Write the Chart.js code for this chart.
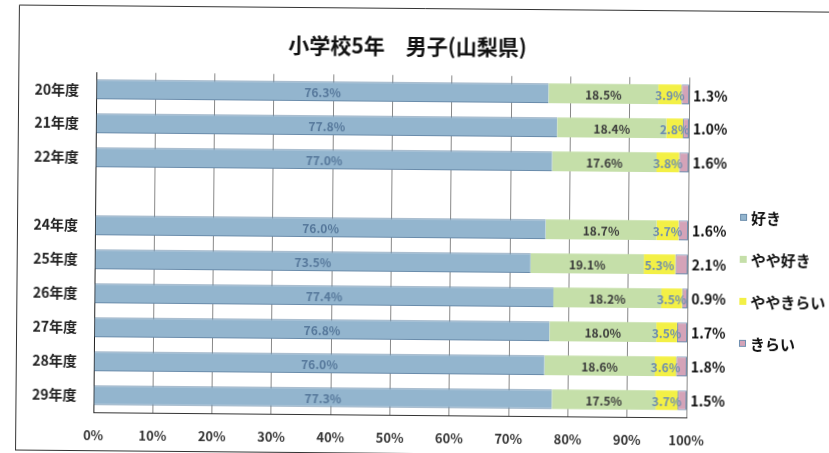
<!DOCTYPE html>
<html lang="ja">
<head>
<meta charset="utf-8">
<title>小学校5年 男子(山梨県)</title>
<script src="https://cdn.jsdelivr.net/npm/chart.js@4.4.1/dist/chart.umd.min.js"></script>
<style>
  html, body { margin: 0; padding: 0; background: #fff; overflow: hidden; }
  #wrap { position: relative; width: 829px; height: 465px; transform: rotate(0.5deg); transform-origin: 414.5px 226.5px; }
</style>
</head>
<body>
<div id="wrap"><canvas id="chart" width="829" height="465"></canvas></div>
<script>
// 年度ごとの回答割合 (%)  23年度は調査なしのため空行
const years = ['20年度', '21年度', '22年度', '', '24年度', '25年度', '26年度', '27年度', '28年度', '29年度'];
const suki      = [76.3, 77.8, 77.0, null, 76.0, 73.5, 77.4, 76.8, 76.0, 77.3];
const yayaSuki  = [18.5, 18.4, 17.6, null, 18.7, 19.1, 18.2, 18.0, 18.6, 17.5];
const yayaKirai = [3.9, 2.8, 3.8, null, 3.7, 5.3, 3.5, 3.5, 3.6, 3.7];
const kirai     = [1.3, 1.0, 1.6, null, 1.6, 2.1, 0.9, 1.7, 1.8, 1.5];
const seriesNames = ['好き', 'やや好き', 'ややきらい', 'きらい'];
const xTicks = [0, 10, 20, 30, 40, 50, 60, 70, 80, 90, 100];

const FONT = "'Noto Sans CJK JP', 'Noto Sans', sans-serif";
Chart.defaults.font.family = FONT;

// ラベルの色と配置 (系列ごと)
const labelStyle = [
  { color: '#55779a', font: 'bold 12px ' + FONT, pos: 'center' },
  { color: '#3a3a3a', font: 'bold 12px ' + FONT, pos: 'center' },
  { color: '#6d8db0', font: 'bold 12px ' + FONT, pos: 'center' },
  { color: '#111111', font: 'bold 14px ' + FONT, pos: 'outside' }
];

const barLabels = {
  id: 'barLabels',
  afterDatasetsDraw(chart) {
    const ctx = chart.ctx;
    ctx.save();
    ctx.textBaseline = 'middle';
    chart.data.datasets.forEach((ds, i) => {
      const meta = chart.getDatasetMeta(i);
      const st = labelStyle[i];
      meta.data.forEach((bar, j) => {
        const v = ds.data[j];
        if (v == null) return;
        ctx.font = st.font;
        ctx.fillStyle = st.color;
        const text = v.toFixed(1) + '%';
        if (st.pos === 'outside') {
          ctx.textAlign = 'left';
          ctx.fillText(text, bar.x + 4, bar.y + 1);
        } else {
          ctx.textAlign = 'center';
          ctx.fillText(text, (bar.x + bar.base) / 2, bar.y + 1);
        }
      });
    });
    ctx.restore();
  }
};

// 外枠と右側の凡例
const decor = {
  id: 'decor',
  afterLayout(chart) {
    const t = chart.titleBlock;
    if (t) { t.left = 0; t.right = 812; }
  },
  beforeDraw(chart) {
    const ctx = chart.ctx;
    ctx.save();
    ctx.fillStyle = '#fff';
    ctx.fillRect(0, 0, chart.width, chart.height);
    ctx.strokeStyle = '#333';
    ctx.lineWidth = 1;
    ctx.beginPath();
    ctx.moveTo(17.5, 454);
    ctx.lineTo(17.5, 8.5);
    ctx.lineTo(829, 8.5);
    ctx.moveTo(17.5, 453.5);
    ctx.lineTo(829, 453.5);
    ctx.stroke();
    ctx.restore();
  },
  afterDraw(chart) {
    const ctx = chart.ctx;
    ctx.save();
    ctx.textBaseline = 'middle';
    ctx.textAlign = 'left';
    ctx.font = 'bold 15px ' + FONT;
    chart.data.datasets.forEach((ds, i) => {
      const y = 215 + i * 42;
      ctx.fillStyle = ds.backgroundColor;
      ctx.fillRect(740, y - 4, 7, 7);
      if (ds.legendBorder) {
        ctx.strokeStyle = ds.legendBorder;
        ctx.strokeRect(740.5, y - 3.5, 6, 6);
      }
      ctx.fillStyle = '#111';
      ctx.fillText(ds.label, 751, y);
    });
    ctx.restore();
  }
};

new Chart(document.getElementById('chart'), {
  type: 'bar',
  data: {
    labels: years,
    datasets: [
      { label: seriesNames[0], data: suki, backgroundColor: '#93b5ce', borderColor: '#6a8cab',
        borderWidth: { top: 1, bottom: 1, left: 0, right: 0 }, borderSkipped: false, legendBorder: '#6a8cab' },
      { label: seriesNames[1], data: yayaSuki, backgroundColor: '#c5dfa9', borderWidth: 0 },
      { label: seriesNames[2], data: yayaKirai, backgroundColor: '#f3f046', borderWidth: 0 },
      { label: seriesNames[3], data: kirai, backgroundColor: '#d4a3b8', borderColor: '#6f8fb0',
        borderWidth: 1, borderSkipped: false, legendBorder: '#6f8fb0' }
    ]
  },
  options: {
    indexAxis: 'y',
    responsive: false,
    animation: false,
    maintainAspectRatio: false,
    layout: { padding: { left: 20, right: 141, top: 0, bottom: 22 } },
    datasets: { bar: { categoryPercentage: 1, barPercentage: 0.58 } },
    plugins: {
      legend: { display: false },
      tooltip: { enabled: false },
      title: {
        display: true,
        text: '小学校5年　男子(山梨県)',
        color: '#111',
        font: { size: 21, weight: 'bold' },
        padding: { top: 33, bottom: 17 }
      }
    },
    scales: {
      x: {
        stacked: true,
        min: 0,
        max: 100,
        afterBuildTicks(scale) { scale.ticks = xTicks.map(v => ({ value: v })); },
        afterFit(scale) { scale.height = 28; },
        grid: { color: '#888', lineWidth: 1, drawTicks: false },
        border: { color: '#333', width: 1 },
        ticks: {
          padding: 15,
          color: '#333',
          font: { size: 13, weight: 'bold' },
          callback: v => v + '%'
        }
      },
      y: {
        stacked: true,
        afterFit(scale) { scale.width = 75; },
        grid: { display: false, drawTicks: false },
        border: { color: '#222', width: 1 },
        ticks: {
          padding: 17,
          color: '#222',
          font: { size: 14, weight: 'bold' }
        }
      }
    }
  },
  plugins: [barLabels, decor]
});
</script>
</body>
</html>
